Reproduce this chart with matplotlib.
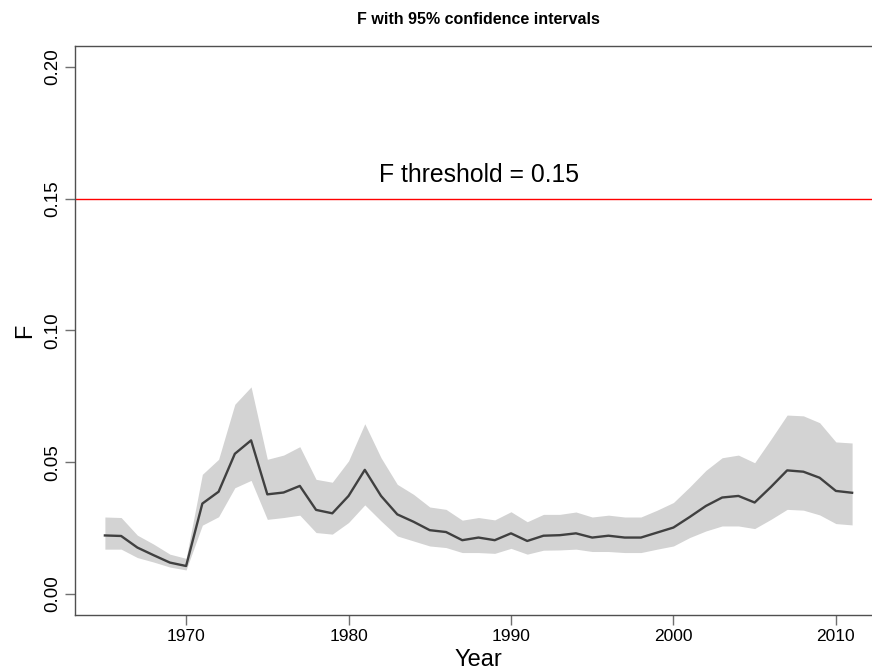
import numpy as np
import matplotlib
matplotlib.use("Agg")
import matplotlib.pyplot as plt

plt.rcParams["font.family"] = ["Liberation Sans", "DejaVu Sans"]

# ---------------------------------------------------------------------------
# Data
# ---------------------------------------------------------------------------
years = np.arange(1965, 2012)

f_est = [0.0222, 0.0220, 0.0176, 0.0147, 0.0119, 0.0106, 0.0343, 0.0388,
         0.0532, 0.0583, 0.0378, 0.0385, 0.0410, 0.0319, 0.0306, 0.0372,
         0.0471, 0.0372, 0.0302, 0.0274, 0.0242, 0.0235, 0.0204, 0.0214,
         0.0204, 0.0230, 0.0201, 0.0221, 0.0223, 0.0230, 0.0214, 0.0221,
         0.0214, 0.0214, 0.0233, 0.0252, 0.0292, 0.0334, 0.0366, 0.0372,
         0.0347, 0.0406, 0.0469, 0.0464, 0.0441, 0.0391, 0.0384]

f_upper = [0.0292, 0.0290, 0.0223, 0.0189, 0.0151, 0.0135, 0.0454, 0.0511,
           0.0720, 0.0786, 0.0511, 0.0527, 0.0559, 0.0435, 0.0424, 0.0505,
           0.0646, 0.0517, 0.0416, 0.0378, 0.0330, 0.0321, 0.0280, 0.0290,
           0.0281, 0.0312, 0.0274, 0.0302, 0.0302, 0.0311, 0.0292, 0.0299,
           0.0292, 0.0292, 0.0318, 0.0347, 0.0406, 0.0469, 0.0517, 0.0527,
           0.0498, 0.0587, 0.0679, 0.0676, 0.0650, 0.0577, 0.0573]

f_lower = [0.0170, 0.0170, 0.0138, 0.0121, 0.0102, 0.0091, 0.0261, 0.0293,
           0.0403, 0.0431, 0.0283, 0.0290, 0.0299, 0.0233, 0.0227, 0.0271,
           0.0338, 0.0277, 0.0220, 0.0201, 0.0182, 0.0176, 0.0157, 0.0157,
           0.0154, 0.0173, 0.0151, 0.0166, 0.0167, 0.0170, 0.0161, 0.0161,
           0.0157, 0.0157, 0.0170, 0.0182, 0.0214, 0.0239, 0.0258, 0.0258,
           0.0248, 0.0283, 0.0321, 0.0318, 0.0300, 0.0267, 0.0262]

f_threshold = 0.15

x_ticks = [1970, 1980, 1990, 2000, 2010]
y_ticks = [0.00, 0.05, 0.10, 0.15, 0.20]

# ---------------------------------------------------------------------------
# Plot (mimics an R base graphics plot, cropped on the right)
# ---------------------------------------------------------------------------
fig = plt.figure(figsize=(8.72, 6.72), dpi=100)
# axes box runs past the right edge of the image, like the reference
ax = fig.add_axes([75 / 872, 57 / 672, 807 / 872, 569 / 672])

ax.fill_between(years, f_lower, f_upper, color="#d3d3d3", linewidth=0)
ax.plot(years, f_est, color="#404040", linewidth=1.7)
ax.axhline(f_threshold, color="red", linewidth=1.0)
ax.text(1981.85, 0.159, f"F threshold = {f_threshold}", fontsize=17.8,
        ha="left", va="center")

ax.set_xlim(1965 - 0.04 * 46, 2011 + 0.04 * 46)
ax.set_ylim(-0.008, 0.208)
ax.set_xticks(x_ticks)
ax.set_xticklabels([str(v) for v in x_ticks], fontsize=12.5)
ax.set_yticks(y_ticks)
ax.set_yticklabels([f"{v:.2f}" for v in y_ticks], rotation=90, va="center",
                   fontsize=13.5)

for s in ax.spines.values():
    s.set_color("#505050")
    s.set_linewidth(1.0)
ax.tick_params(direction="out", length=7, width=1.0, color="#707070", pad=3)

ax.set_xlabel("Year", fontsize=17, labelpad=4)
ax.set_ylabel("F", fontsize=17, labelpad=6)
ax.set_title("F with 95% confidence intervals", fontsize=11.5,
             fontweight="bold", pad=16)

fig.savefig("out.png", dpi=100)
